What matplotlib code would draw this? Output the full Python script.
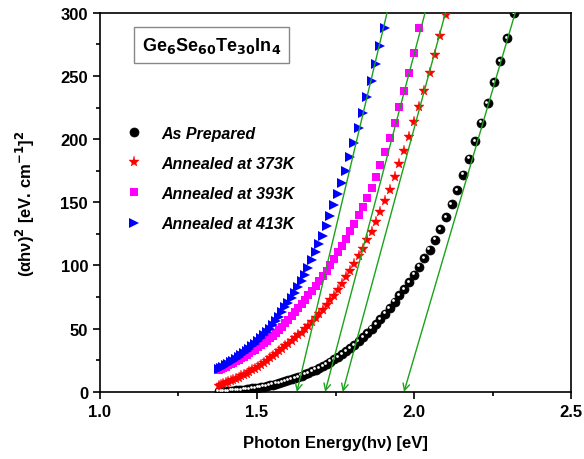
import matplotlib
matplotlib.use('Agg')
import matplotlib.pyplot as plt
from matplotlib.transforms import offset_copy

plt.rcParams['font.family'] = ['Liberation Sans', 'DejaVu Sans']

# photon energy grid (eV), shared by all samples
energy = [1.378, 1.385, 1.393, 1.401, 1.409, 1.417, 1.425, 1.434, 1.442, 1.450,
          1.459, 1.467, 1.476, 1.485, 1.494, 1.503, 1.512, 1.521, 1.531, 1.540,
          1.550, 1.560, 1.570, 1.580, 1.590, 1.600, 1.610, 1.621, 1.632, 1.642,
          1.653, 1.664, 1.676, 1.687, 1.699, 1.710, 1.722, 1.734, 1.746, 1.759,
          1.771, 1.784, 1.797, 1.810, 1.824, 1.837, 1.851, 1.865, 1.879, 1.893,
          1.908, 1.922, 1.938, 1.953, 1.968, 1.984, 2.000, 2.016, 2.033, 2.050,
          2.067, 2.084, 2.102, 2.120, 2.138, 2.157, 2.175, 2.195, 2.214, 2.234,
          2.255, 2.275, 2.296, 2.318]

# (alpha h nu)^2 values
as_prepared = [0.3, 0.4, 0.5, 0.6, 0.7, 0.9, 1.0, 1.2, 1.4, 1.6,
               1.8, 2.1, 2.4, 2.7, 3.0, 3.4, 3.8, 4.2, 4.7, 5.2,
               5.8, 6.4, 7.0, 7.7, 8.4, 9.1, 9.9, 10.8, 11.8, 12.8,
               13.9, 15.0, 16.3, 17.6, 19.0, 20.5, 22.1, 23.8, 25.6, 27.6,
               29.7, 32.0, 34.5, 37.2, 40.1, 43.2, 46.5, 50.0, 53.8, 57.8,
               62.0, 66.5, 71.3, 76.3, 81.5, 87.0, 92.8, 99.0, 105.6, 112.6,
               120.5, 129.0, 138.5, 148.8, 159.8, 171.8, 184.5, 198.5, 213.0, 228.5,
               245.0, 262.0, 280.0, 299.5]
ann_373 = [5.0, 5.6, 6.3, 7.0, 7.8, 8.6, 9.4, 10.3, 11.2, 12.2,
           13.3, 14.4, 15.6, 17.0, 18.4, 19.9, 21.4, 23.0, 24.7, 26.4,
           28.2, 30.1, 32.0, 34.0, 36.0, 38.0, 40.1, 42.3, 44.6, 46.9,
           49.4, 52.0, 55.0, 58.2, 61.6, 65.0, 68.6, 72.3, 76.0, 80.6,
           85.4, 90.5, 95.8, 101.3, 107.3, 113.3, 119.8, 126.8, 134.5, 142.5,
           151.0, 160.0, 170.0, 180.5, 191.0, 202.0, 213.5, 225.5, 238.5, 252.0,
           266.5, 281.5, 298.0]
ann_393 = [17.0, 17.9, 18.9, 19.9, 21.0, 22.0, 23.1, 24.3, 25.4, 26.6,
           27.9, 29.2, 30.6, 32.0, 33.5, 35.1, 36.8, 38.5, 40.4, 42.3,
           44.3, 46.6, 49.0, 51.6, 54.2, 57.0, 59.9, 63.1, 66.4, 69.5,
           72.9, 76.4, 80.2, 83.8, 87.7, 91.6, 96.0, 100.4, 105.0, 110.3,
           115.6, 121.3, 127.0, 133.0, 139.9, 146.5, 153.5, 161.0, 170.0, 179.5,
           190.0, 201.0, 213.0, 225.5, 238.5, 252.5, 268.0, 288.0]
ann_413 = [18.0, 18.9, 20.0, 21.1, 22.3, 23.5, 24.8, 26.2, 27.6, 29.0,
           30.7, 32.3, 34.2, 36.1, 38.1, 40.2, 42.4, 44.8, 47.4, 50.0,
           53.0, 56.2, 59.6, 63.2, 66.8, 70.5, 74.3, 78.6, 83.2, 87.8,
           92.8, 98.3, 104.5, 110.5, 117.0, 123.6, 131.0, 139.3, 147.6, 156.6,
           165.5, 175.0, 185.5, 196.8, 209.0, 220.5, 233.0, 246.0, 259.5, 273.5,
           288.0]

# linear fits: energy where fit line hits 300, and optical gap (intercept)
fit_top = [2.322, 2.100, 2.035, 1.914]
fit_gap = [1.968, 1.773, 1.717, 1.627]

labels = ['As Prepared', 'Annealed at 373K', 'Annealed at 393K', 'Annealed at 413K']

fig = plt.figure(figsize=(5.84, 4.6), dpi=100)
ax = fig.add_axes([0.171, 0.146, 0.807, 0.824])

# as prepared: shaded spheres
ax.plot(energy[:len(as_prepared)], as_prepared, 'o', color='black', ms=6.5,
        mec='black', mew=0.5, label=labels[0], zorder=3)
shine = offset_copy(ax.transData, fig=fig, x=-1.3, y=1.3, units='dots')
ax.plot(energy[:len(as_prepared)], as_prepared, 'o', color='white', ms=2.0,
        mew=0, transform=shine, zorder=4)

ax.plot(energy[:len(ann_373)], ann_373, '*', color='red', ms=8, mew=0.3,
        label=labels[1], zorder=3)
ax.plot(energy[:len(ann_393)], ann_393, 's', color='#ff00ff', ms=5.5, mew=0,
        label=labels[2], zorder=3)
ax.plot(energy[:len(ann_413)], ann_413, '>', color='#0000ff', ms=7, mew=0,
        label=labels[3], zorder=3)

for top, gap in zip(fit_top, fit_gap):
    ax.annotate('', xy=(gap, 0), xytext=(top, 300),
                arrowprops=dict(arrowstyle='->', color='#1aa31a', lw=1.0,
                                shrinkA=0, shrinkB=0, mutation_scale=12),
                zorder=5)

ax.set_xlim(1.0, 2.5)
ax.set_ylim(0, 300)
ax.set_xticks([1.0, 1.5, 2.0, 2.5])
ax.set_xticks([1.25, 1.75, 2.25], minor=True)
ax.set_yticks([0, 50, 100, 150, 200, 250, 300])
ax.set_yticks([25, 75, 125, 175, 225, 275], minor=True)
ax.tick_params(which='both', direction='out', top=False, right=False, width=1.2)
ax.tick_params(which='major', length=5, labelsize=12)
ax.tick_params(which='minor', length=3)
for lab in ax.get_xticklabels() + ax.get_yticklabels():
    lab.set_fontweight('bold')
for sp in ax.spines.values():
    sp.set_linewidth(1.2)

ax.set_xlabel('Photon Energy(h\u03bd) [eV]', fontsize=12, fontweight='bold',
              labelpad=12)
ax.set_ylabel('(\u03b1h\u03bd)$^\\mathbf{2}$ [eV. cm$^\\mathbf{-1}$]$^\\mathbf{2}$',
              fontsize=12, fontweight='bold', labelpad=17)

ax.text(0.089, 0.916, 'Ge$_\\mathbf{6}$Se$_\\mathbf{60}$Te$_\\mathbf{30}$In$_\\mathbf{4}$',
        transform=ax.transAxes, fontsize=13, fontweight='bold', va='center',
        bbox=dict(boxstyle='square,pad=0.45', fc='white', ec='#888888', lw=1))

leg = ax.legend(loc='upper left', bbox_to_anchor=(0.025, 0.74), frameon=False,
                prop=dict(size=11.5, weight='bold', style='italic'),
                labelspacing=0.95, handletextpad=1.2, handlelength=1.0,
                markerscale=1.0)

fig.savefig('out.png', dpi=100)
